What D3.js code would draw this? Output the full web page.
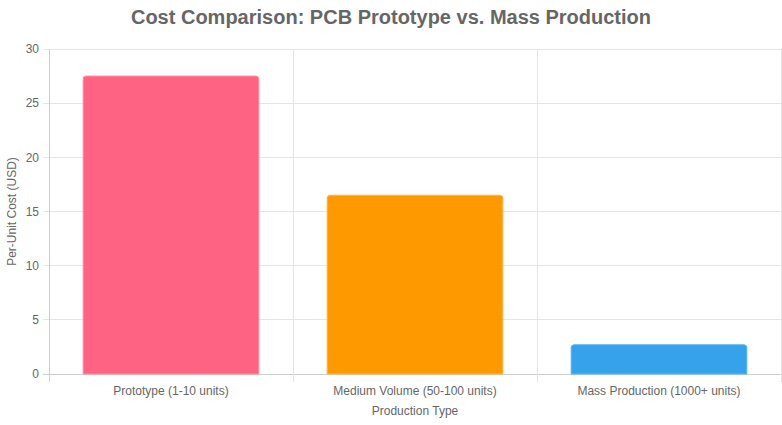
<!DOCTYPE html>
<html>
<head>
<meta charset="utf-8">
<script src="https://cdn.jsdelivr.net/npm/d3@7"></script>
<style>
  body { margin: 0; background: #fff; }
  svg text { font-family: "Liberation Sans", Arial, sans-serif; fill: #666; }
</style>
</head>
<body>
<div id="chart"></div>
<script>
// chart data
const categories = ["Prototype (1-10 units)", "Medium Volume (50-100 units)", "Mass Production (1000+ units)"];
const costs = [27.5, 16.5, 2.7];
const barColors = ["#ff6384", "#ff9900", "#36a2eb"];
const borderColors = ["#ff8aa3", "#ffb547", "#5cb5f0"];
const yTicks = [0, 5, 10, 15, 20, 25, 30];

const width = 782, height = 425;
const margin = { top: 49, right: 1, bottom: 51, left: 49 };
const innerW = width - margin.left - margin.right;
const innerH = height - margin.top - margin.bottom;

const svg = d3.select("#chart").append("svg")
  .attr("width", width)
  .attr("height", height);

svg.append("text")
  .attr("x", width / 2).attr("y", 24)
  .attr("text-anchor", "middle")
  .style("font-size", "20px").style("font-weight", "bold")
  .text("Cost Comparison: PCB Prototype vs. Mass Production");

const g = svg.append("g").attr("transform", `translate(${margin.left},${margin.top})`);

let x = d3.scaleBand().domain(categories).range([0, innerW]).paddingInner(0).paddingOuter(0);
let y = d3.scaleLinear().domain([0, 30]).range([innerH, 0]);

// horizontal grid
g.append("g").selectAll("line")
  .data(yTicks)
  .join("line")
  .attr("x1", -6).attr("x2", innerW)
  .attr("y1", d => y(d)).attr("y2", d => y(d))
  .attr("stroke", d => d === 0 ? "#ccc" : "#e5e5e5")
  .attr("shape-rendering", "crispEdges");

// vertical grid lines between categories
const vLines = categories.map(c => x(c)).concat([innerW]);
g.append("g").selectAll("line")
  .data(vLines)
  .join("line")
  .attr("x1", d => d).attr("x2", d => d)
  .attr("y1", 0).attr("y2", innerH + 8)
  .attr("stroke", (d, i) => i === 0 ? "#ccc" : "#e5e5e5")
  .attr("shape-rendering", "crispEdges");

// y tick labels
g.append("g").selectAll("text")
  .data(yTicks)
  .join("text")
  .attr("x", -10).attr("y", d => y(d))
  .attr("dy", "0.35em")
  .attr("text-anchor", "end")
  .style("font-size", "12px")
  .text(d => d);

// bars
const barW = x.bandwidth() * 0.72;
g.selectAll(".bar")
  .data(costs)
  .join("path")
  .classed("bar", true)
  .attr("d", (d, i) => {
    const x0 = x(categories[i]) + (x.bandwidth() - barW) / 2;
    const x1 = x0 + barW;
    const y0 = y(d), y1 = y(0);
    const r = 3;
    return `M${x0},${y1} L${x0},${y0 + r} Q${x0},${y0} ${x0 + r},${y0} L${x1 - r},${y0} Q${x1},${y0} ${x1},${y0 + r} L${x1},${y1} Z`;
  })
  .attr("fill", (d, i) => barColors[i])
  .attr("stroke", (d, i) => borderColors[i])
  .attr("stroke-width", 1);

// x labels
g.append("g").selectAll("text")
  .data(categories)
  .join("text")
  .attr("x", d => x(d) + x.bandwidth() / 2)
  .attr("y", innerH + 21)
  .attr("text-anchor", "middle")
  .style("font-size", "12px")
  .text(d => d);

// axis titles
svg.append("text")
  .attr("x", margin.left + innerW / 2).attr("y", 415)
  .attr("text-anchor", "middle")
  .style("font-size", "12px")
  .text("Production Type");

svg.append("text")
  .attr("transform", `translate(16,${margin.top + innerH / 2}) rotate(-90)`)
  .attr("text-anchor", "middle")
  .style("font-size", "12px")
  .text("Per-Unit Cost (USD)");
</script>
</body>
</html>
